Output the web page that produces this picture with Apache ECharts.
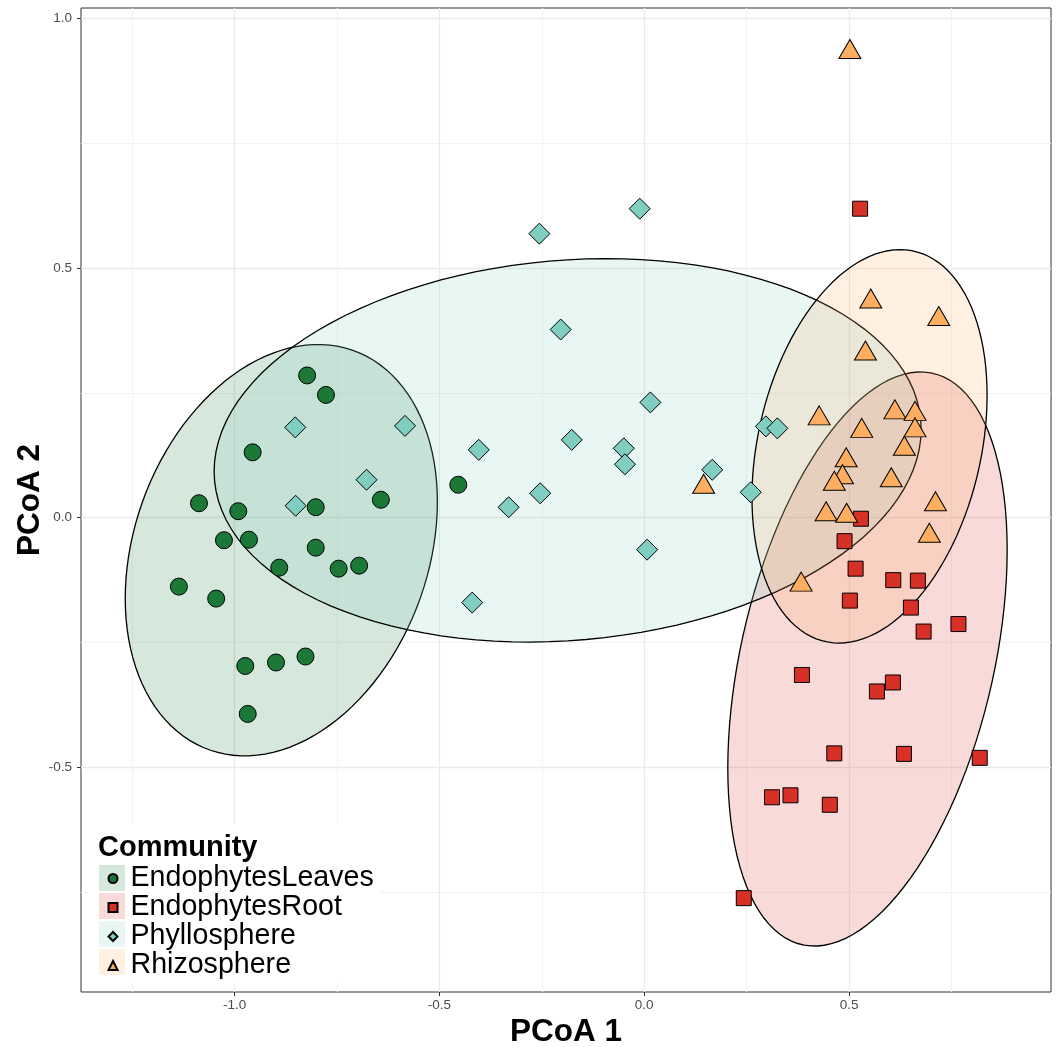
<!DOCTYPE html>
<html>
<head>
    <meta charset="utf-8">
    <title>PCoA</title>
    <script src="https://cdn.jsdelivr.net/npm/echarts@6/dist/echarts.min.js"></script>
</head>
<body style="margin:0">
    <div id="pcoa" style="width: 1057px;height: 1047px;"></div>
</body>

<script>
    // communities, in legend order
    var groups = ['EndophytesLeaves', 'EndophytesRoot', 'Phyllosphere', 'Rhizosphere'];

    var leavesX = [-0.823, -0.777, -0.956, -1.087, -0.991, -0.802, -0.643, -0.454, -1.026, -0.965,
                   -0.802, -0.891, -0.746, -0.696, -1.136, -1.045, -0.974, -0.899, -0.827, -0.968];
    var leavesY = [0.285, 0.246, 0.131, 0.029, 0.013, 0.021, 0.036, 0.066, -0.045, -0.044,
                   -0.060, -0.100, -0.102, -0.096, -0.138, -0.162, -0.297, -0.290, -0.278, -0.393];

    var rootX = [0.527, 0.529, 0.489, 0.516, 0.608, 0.668, 0.502, 0.651, 0.682, 0.767,
                 0.385, 0.568, 0.607, 0.464, 0.634, 0.819, 0.312, 0.357, 0.453, 0.243];
    var rootY = [0.619, -0.002, -0.047, -0.102, -0.125, -0.126, -0.166, -0.180, -0.228, -0.213,
                 -0.315, -0.348, -0.330, -0.472, -0.473, -0.481, -0.560, -0.556, -0.575, -0.762];

    var phylloX = [-0.256, -0.204, -0.852, -0.584, -0.404, -0.177, -0.678, -0.851, -0.254, -0.331,
                   -0.420, -0.011, 0.015, -0.050, -0.047, 0.166, 0.297, 0.325, 0.260, 0.007];
    var phylloY = [0.569, 0.377, 0.181, 0.184, 0.136, 0.156, 0.076, 0.024, 0.049, 0.021,
                   -0.170, 0.619, 0.231, 0.139, 0.107, 0.096, 0.183, 0.179, 0.051, -0.064];

    var rhizoX = [0.502, 0.553, 0.719, 0.540, 0.427, 0.612, 0.661, 0.531, 0.661, 0.635,
                  0.493, 0.484, 0.464, 0.603, 0.711, 0.444, 0.494, 0.696, 0.383, 0.145];
    var rhizoY = [0.939, 0.439, 0.404, 0.335, 0.205, 0.217, 0.214, 0.180, 0.181, 0.144,
                  0.121, 0.087, 0.074, 0.081, 0.033, 0.013, 0.010, -0.030, -0.128, 0.068];

    // 95% ellipses: centre, half width, half height, correlation
    var ellipseCx = [-0.886, 0.545, -0.187, 0.550];
    var ellipseCy = [-0.065, -0.283, 0.135, 0.143];
    var ellipseRx = [0.381, 0.341, 0.863, 0.287];
    var ellipseRy = [0.412, 0.575, 0.384, 0.394];
    var ellipseR  = [0.235, 0.38, 0.11, 0.26];

    var xTicks = [-1, -0.5, 0, 0.5];
    var yTicks = [-0.5, 0, 0.5, 1];
    var xMinor = [-1.25, -0.75, -0.25, 0.25, 0.75];
    var yMinor = [-0.75, -0.25, 0.25, 0.75];

    var colors = ['#1b7837', '#d73027', '#80cdc1', '#fdae61'];
    var fills = ['rgba(27,120,55,0.18)', 'rgba(215,48,39,0.18)', 'rgba(128,205,193,0.18)', 'rgba(253,174,97,0.18)'];
    var symbols = ['circle', 'rect', 'diamond', 'triangle'];
    var sizes = [17, 15, [21, 21], [22, 19]];
    var pointsX = [leavesX, rootX, phylloX, rhizoX];
    var pointsY = [leavesY, rootY, phylloY, rhizoY];

    var font = 'Liberation Sans, Arial, Helvetica, sans-serif';

    function ellipseItem(params, api) {
        var cx = api.value(0), cy = api.value(1);
        var rx = api.value(2), ry = api.value(3);
        var phi = Math.acos(api.value(4));
        var pts = [];
        for (var i = 0; i < 120; i++) {
            var t = i / 120 * Math.PI * 2;
            pts.push(api.coord([cx + rx * Math.cos(t), cy + ry * Math.cos(t - phi)]));
        }
        return {
            type: 'polygon',
            shape: {points: pts},
            style: {fill: fills[params.seriesIndex], stroke: '#000', lineWidth: 1.3}
        };
    }

    var series = [];
    groups.forEach(function (g, i) {
        series.push({
            name: g + ' ellipse',
            type: 'custom',
            coordinateSystem: 'cartesian2d',
            renderItem: ellipseItem,
            itemStyle: {color: fills[i]},
            data: [[ellipseCx[i], ellipseCy[i], ellipseRx[i], ellipseRy[i], ellipseR[i]]],
            z: 2,
            silent: true
        });
    });
    groups.forEach(function (g, i) {
        series.push({
            name: g,
            type: 'scatter',
            symbol: symbols[i],
            symbolSize: sizes[i],
            itemStyle: {color: colors[i], borderColor: '#000', borderWidth: 1, opacity: 1},
            data: pointsX[i].map(function (x, k) { return [x, pointsY[i][k]]; }),
            z: 3
        });
    });

    var tickLabel = function (v) { return v.toFixed(1); };

    var option = {
        animation: false,
        backgroundColor: '#fff',
        textStyle: {fontFamily: font},
        title: {
            text: 'Community',
            left: 98, top: 833, padding: 0,
            textStyle: {fontSize: 29, fontWeight: 'bold', color: '#000', fontFamily: font}
        },
        grid: {
            left: 81, right: 6, top: 8, bottom: 55,
            outerBoundsMode: 'none', containLabel: false,
            show: true, borderColor: '#333', borderWidth: 1
        },
        graphic: [{
            type: 'rect', z: 1,
            shape: {x: 88, y: 824, width: 292, height: 159},
            style: {fill: '#fff'}
        }],
        legend: [{
            data: groups.map(function (g, i) {
                return {name: g + ' ellipse', icon: 'rect', itemStyle: {color: fills[i], borderWidth: 0}};
            }),
            orient: 'vertical', left: 99, top: 864, padding: 0,
            itemWidth: 26, itemHeight: 26, itemGap: 0,
            selectedMode: false, z: 5,
            formatter: function () { return ' '; },
            textStyle: {fontSize: 28, color: 'rgba(0,0,0,0)', fontFamily: font}
        }, {
            data: groups.map(function (g, i) { return {name: g, icon: symbols[i]}; }),
            orient: 'vertical', left: 107.5, top: 864, padding: 0,
            itemWidth: 9, itemHeight: 9, itemGap: 0,
            selectedMode: false, z: 6,
            textStyle: {fontSize: 28.6, color: '#000', fontFamily: font, padding: [0, 0, 0, 8]}
        }],
        xAxis: [{
            type: 'value', min: -1.375, max: 0.993,
            name: 'PCoA 1', nameLocation: 'middle', nameGap: 24, nameMoveOverlap: false,
            nameTextStyle: {fontSize: 31.5, fontWeight: 'bold', color: '#000', fontFamily: font},
            axisLine: {show: false, onZero: false},
            axisTick: {show: true, length: 4, customValues: xTicks, lineStyle: {color: '#333', width: 1}},
            axisLabel: {customValues: xTicks, formatter: tickLabel, margin: 6, fontSize: 13.5, color: '#4d4d4d', fontFamily: font},
            splitLine: {show: true, lineStyle: {color: '#ebebeb', width: 1.3}}
        }, {
            type: 'value', min: -1.375, max: 0.993, gridIndex: 0,
            axisLine: {show: false, onZero: false},
            axisTick: {show: false, customValues: xMinor},
            axisLabel: {show: false, customValues: xMinor},
            splitLine: {show: true, lineStyle: {color: '#f3f3f3', width: 1}}
        }],
        yAxis: [{
            type: 'value', min: -0.95, max: 1.021,
            name: 'PCoA 2', nameLocation: 'middle', nameGap: 35, nameMoveOverlap: false,
            nameTextStyle: {fontSize: 31.5, fontWeight: 'bold', color: '#000', fontFamily: font},
            axisLine: {show: false, onZero: false},
            axisTick: {show: true, length: 4, customValues: yTicks, lineStyle: {color: '#333', width: 1}},
            axisLabel: {customValues: yTicks, formatter: tickLabel, margin: 9, fontSize: 13.5, color: '#4d4d4d', fontFamily: font},
            splitLine: {show: true, lineStyle: {color: '#ebebeb', width: 1.3}}
        }, {
            type: 'value', min: -0.95, max: 1.021, gridIndex: 0,
            axisLine: {show: false, onZero: false},
            axisTick: {show: false, customValues: yMinor},
            axisLabel: {show: false, customValues: yMinor},
            splitLine: {show: true, lineStyle: {color: '#f3f3f3', width: 1}}
        }],
        series: series
    };

    var chart = echarts.init(document.getElementById('pcoa'));
    chart.setOption(option);
</script>
</html>
